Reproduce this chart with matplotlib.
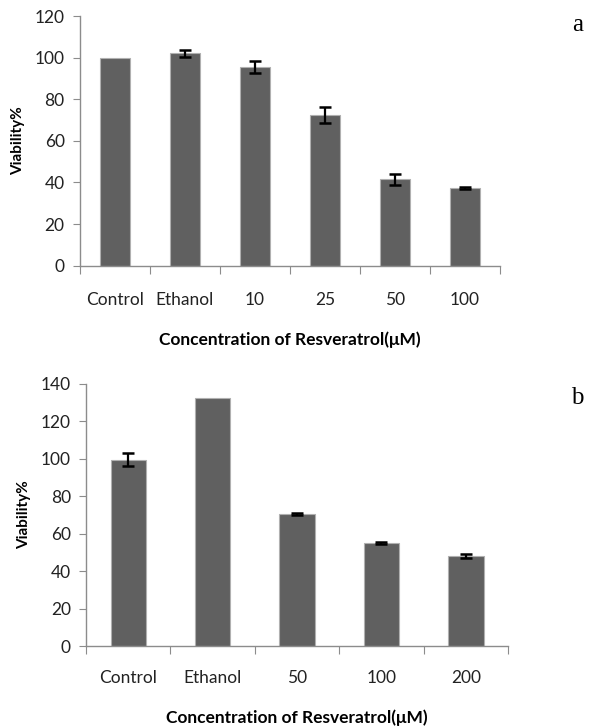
import numpy as np
import matplotlib.pyplot as plt

# === DATA ===
labels_a = ["Control", "Ethanol", "10", "25", "50", "100"]
values_a = [100, 102, 95.5, 72.5, 41.5, 37.5]
errors_a = [0, 1.5, 3.0, 4.0, 2.5, 0.4]

labels_b = ["Control", "Ethanol", "50", "100", "200"]
values_b = [99.5, 132.5, 70.5, 55, 48]
errors_b = [3.5, 0, 0.5, 0.7, 1.0]

BAR_COLOR = "#606060"
AXIS_COLOR = "#8c8c8c"
SANS = ["Lato", "DejaVu Sans"]


def draw_panel(ax, labels, values, errors, ymax, tickpad):
    x = np.arange(len(labels))
    ax.bar(x, values, width=0.42, color=BAR_COLOR, edgecolor="#b0b0b0", linewidth=0.8, zorder=2)
    errs = np.array(errors, dtype=float)
    mask = errs > 0
    ax.errorbar(x[mask], np.array(values)[mask], yerr=errs[mask], fmt="none",
                ecolor="black", elinewidth=1.6, capsize=4, capthick=1.8, zorder=3)

    ax.set_xlim(-0.5, len(labels) - 0.5)
    ax.set_ylim(0, ymax)
    ax.set_yticks(np.arange(0, ymax + 1, 20))

    # ticks at category boundaries, labels centred under bars
    ax.set_xticks(np.arange(-0.5, len(labels), 1.0))
    ax.set_xticklabels([])
    ax.set_xticks(x, minor=True)
    ax.set_xticklabels(labels, minor=True, fontsize=12.5, family=SANS, color="#222222")
    ax.tick_params(axis="x", which="minor", length=0, pad=tickpad)
    ax.tick_params(axis="x", which="major", length=6, color=AXIS_COLOR, direction="out")
    ax.tick_params(axis="y", length=5, color=AXIS_COLOR, direction="out", pad=6)
    for lab in ax.get_yticklabels():
        lab.set_fontsize(12.5)
        lab.set_family(SANS)
        lab.set_color("#222222")

    for side in ["top", "right"]:
        ax.spines[side].set_visible(False)
    for side in ["left", "bottom"]:
        ax.spines[side].set_color(AXIS_COLOR)
        ax.spines[side].set_linewidth(1.0)

    ax.set_ylabel("Viability%", fontsize=11, fontweight="bold", family=SANS, labelpad=7)
    ax.set_xlabel("Concentration of Resveratrol(\u03bcM)", fontsize=12.5, fontweight="bold",
                  family=SANS, labelpad=17)


fig = plt.figure(figsize=(6.15, 7.28), dpi=100)
ax_a = fig.add_axes([0.130, 0.635, 0.683, 0.343])
ax_b = fig.add_axes([0.140, 0.1126, 0.686, 0.360])

draw_panel(ax_a, labels_a, values_a, errors_a, 120, 19)
draw_panel(ax_b, labels_b, values_b, errors_b, 140, 17)

fig.text(0.94, 0.966, "a", fontsize=18, family="Liberation Serif", ha="center", va="center")
fig.text(0.938, 0.453, "b", fontsize=18, family="Liberation Serif", ha="center", va="center")

fig.savefig("out.png", dpi=100)
